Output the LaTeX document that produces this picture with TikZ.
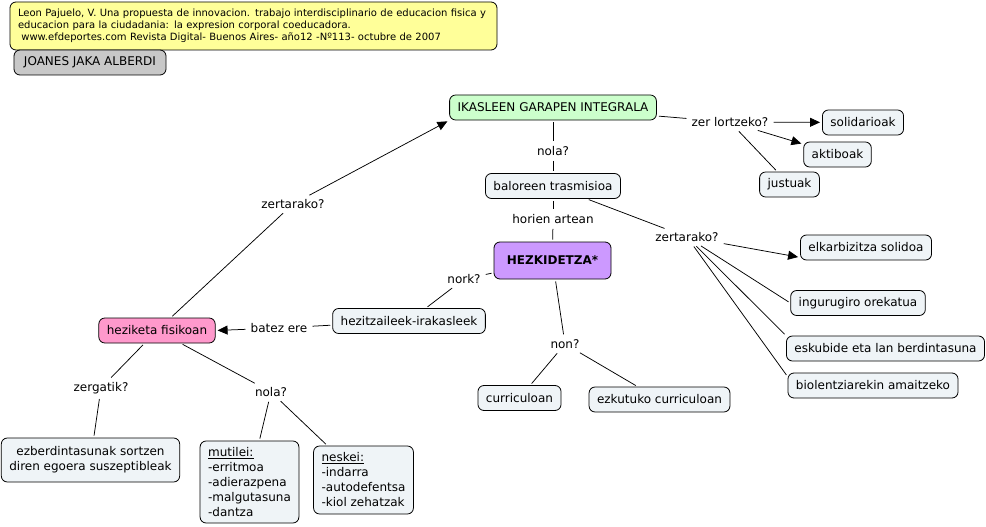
\documentclass[tikz,border=0pt]{standalone}
\usepackage{fontspec}
\setmainfont{DejaVu Sans}
\usetikzlibrary{arrows.meta}

\definecolor{boxfill}{RGB}{239,244,247}
\definecolor{notefill}{RGB}{255,255,153}
\definecolor{authorfill}{RGB}{200,200,200}
\definecolor{goalfill}{RGB}{204,255,204}
\definecolor{corefill}{RGB}{204,153,255}
\definecolor{topicfill}{RGB}{255,153,204}

\tikzset{
  concept/.style={draw, line width=0.8pt, rounded corners=6pt, fill=boxfill,
    inner xsep=8pt, minimum height=25pt, font=\fontsize{12}{15}\selectfont},
  linkword/.style={inner sep=3pt, font=\fontsize{12}{15}\selectfont},
  link/.style={line width=0.75pt, shorten <=2pt, shorten >=2pt},
  arrowlink/.style={link, -{Triangle[length=10pt,width=9pt]}},
}

\begin{document}
\begin{tikzpicture}[x=1pt,y=-1pt]
    \useasboundingbox (0,0) rectangle (986,527);

    % goiburua
    \node[concept, fill=notefill, text width=471pt, minimum height=48pt, align=left,
      inner xsep=8pt, font=\fontsize{10}{12}\selectfont] (ref) at (253.5,26)
      {Leon Pajuelo, V. Una propuesta de innovacion. trabajo interdisciplinario de educacion fisica y\\
       educacion para la ciudadania: la expresion corporal coeducadora.\\
       \ www.efdeportes.com Revista Digital- Buenos Aires- año12 -Nº113- octubre de 2007};
    \node[concept, fill=authorfill, inner xsep=10pt] (author) at (90,62.5) {JOANES JAKA ALBERDI};

    % kontzeptuak
    \node[concept, fill=goalfill] (garapen) at (553,107.5) {IKASLEEN GARAPEN INTEGRALA};
    \node[concept] (solidarioak) at (863,122.5) {solidarioak};
    \node[concept] (aktiboak) at (837.5,154.5) {aktiboak};
    \node[concept] (justuak) at (789.5,184.5) {justuak};
    \node[concept] (baloreak) at (553,186) {baloreen trasmisioa};
    \node[concept, fill=corefill, minimum width=117pt, minimum height=37pt,
      font=\fontsize{12}{15}\selectfont\bfseries] (hezkidetza) at (552.5,260.5) {HEZKIDETZA*};
    \node[concept] (elkarbizitza) at (866,247.5) {elkarbizitza solidoa};
    \node[concept] (ingurugiro) at (858,303) {ingurugiro orekatua};
    \node[concept] (eskubide) at (885.5,348.5) {eskubide eta lan berdintasuna};
    \node[concept] (biolentzia) at (873,385.5) {biolentziarekin amaitzeko};
    \node[concept] (hezitzaileak) at (409,321) {hezitzaileek-irakasleek};
    \node[concept] (curriculoan) at (519.5,398) {curriculoan};
    \node[concept] (ezkutuko) at (659.5,399.5) {ezkutuko curriculoan};
    \node[concept, fill=topicfill] (heziketa) at (157,330.5) {heziketa fisikoan};
    \node[concept, align=center, minimum height=44pt] (ezberdin) at (90.5,460)
      {ezberdintasunak sortzen\\diren egoera suszeptibleak};
    \node[concept, align=left, minimum height=82pt] (mutilei) at (249.5,482)
      {\underline{mutilei:}\\-erritmoa\\-adierazpena\\-malgutasuna\\-dantza};
    \node[concept, align=left, minimum height=68pt] (neskei) at (363.5,480)
      {\underline{neskei:}\\-indarra\\-autodefentsa\\-kiol zehatzak};

    % lotura hitzak
    \node[linkword] (zerlortzeko) at (730,122) {zer lortzeko?};
    \node[linkword] (nolagoian) at (553,151) {nola?};
    \node[linkword] (horien) at (553,219) {horien artean};
    \node[linkword] (zertarakoesk) at (687,237) {zertarako?};
    \node[linkword] (nork) at (464,279) {nork?};
    \node[linkword] (batez) at (279,328) {batez ere};
    \node[linkword] (non) at (565,344) {non?};
    \node[linkword] (zertarakoezk) at (293,204) {zertarako?};
    \node[linkword] (zergatik) at (101,388) {zergatik?};
    \node[linkword] (nolabehean) at (271,392) {nola?};

    % loturak
    \draw[link] (garapen) -- (zerlortzeko);
    \draw[arrowlink] (zerlortzeko) -- (solidarioak);
    \draw[arrowlink] (zerlortzeko) -- (aktiboak);
    \draw[link] (zerlortzeko) -- (justuak);

    \draw[link] (garapen) -- (nolagoian);
    \draw[link] (nolagoian) -- (baloreak);
    \draw[link] (baloreak) -- (horien);
    \draw[link] (horien) -- (hezkidetza);

    \draw[link] (baloreak) -- (zertarakoesk);
    \draw[arrowlink] (zertarakoesk) -- ([yshift=3pt]elkarbizitza.south west);
    \draw[link] (zertarakoesk) -- (ingurugiro.west);
    \draw[link] (zertarakoesk) -- (eskubide.north west);
    \draw[link] (zertarakoesk) -- ([yshift=-4pt]biolentzia.north west);

    \draw[link] (hezkidetza) -- (nork);
    \draw[link] (nork) -- (hezitzaileak);
    \draw[link] (hezitzaileak) -- (batez);
    \draw[arrowlink] (batez) -- (heziketa.east);

    \draw[link] (hezkidetza) -- (non);
    \draw[link] (non) -- (curriculoan);
    \draw[link] (non) -- (ezkutuko);

    \draw[link] (heziketa) -- (zertarakoezk);
    \draw[arrowlink] (zertarakoezk) -- (garapen.south west);

    \draw[link] (heziketa) -- (zergatik);
    \draw[link] (zergatik) -- (ezberdin);
    \draw[link] (heziketa) -- (nolabehean);
    \draw[link] (nolabehean) -- (mutilei);
    \draw[link] (nolabehean) -- (neskei);
\end{tikzpicture}
\end{document}
